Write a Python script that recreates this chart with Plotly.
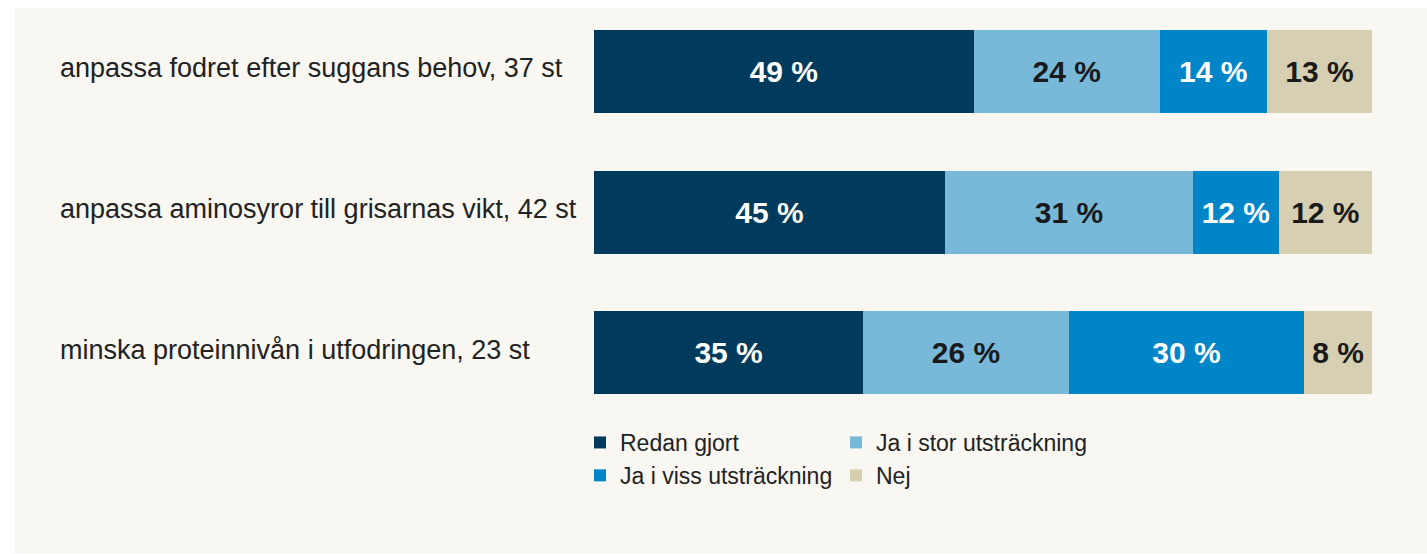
import plotly.graph_objects as go

categories = [
    "anpassa fodret efter suggans behov, 37 st",
    "anpassa aminosyror till grisarnas vikt, 42 st",
    "minska proteinnivån i utfodringen, 23 st",
]
series_names = ["Redan gjort", "Ja i stor utsträckning", "Ja i viss utsträckning", "Nej"]
# segment lengths (%)
redan = [48.8, 45.1, 34.6]
stor = [23.9, 31.9, 26.4]
viss = [13.8, 11.0, 30.3]
nej = [13.5, 12.0, 8.7]
# printed labels (%)
redan_lbl = [49, 45, 35]
stor_lbl = [24, 31, 26]
viss_lbl = [14, 12, 30]
nej_lbl = [13, 12, 8]

colors = ["#003a5c", "#78b8d8", "#0086c8", "#d6cfb1"]
text_colors = ["#ffffff", "#1a1a1a", "#ffffff", "#1a1a1a"]

W, H = 1427, 554
L, R, T, B = 594, 55, 1, 131
PW, PH = W - L - R, H - T - B

def px_x(px):
    return (px - L) / PW

def px_y(py):
    return (H - B - py) / PH

fig = go.Figure()
for name, vals, lbls, col, tcol in zip(
    series_names, [redan, stor, viss, nej], [redan_lbl, stor_lbl, viss_lbl, nej_lbl], colors, text_colors
):
    fig.add_trace(go.Bar(
        y=categories, x=vals, name=name, orientation="h",
        marker=dict(color=col, line=dict(width=0)),
        text=[f"{v} %" for v in lbls], textposition="inside", insidetextanchor="middle",
        constraintext="none",
        textfont=dict(family="Liberation Sans, Arial, sans-serif", size=30, color=tcol, weight="bold"),
        hoverinfo="skip",
    ))

for c in categories:
    fig.add_annotation(
        x=px_x(58), xref="paper", y=c, yref="y", xanchor="left", yanchor="middle",
        text=c, showarrow=False, yshift=3,
        font=dict(family="Liberation Sans, Arial, sans-serif", size=27, color="#222222"),
    )

fig.add_shape(type="rect", xref="paper", yref="paper", x0=px_x(15), x1=px_x(1427), y0=px_y(553), y1=px_y(8),
              fillcolor="#f8f7f2", line=dict(width=0), layer="below")

fig.update_layout(
    width=W, height=H, margin=dict(l=L, r=R, t=T, b=B),
    paper_bgcolor="#ffffff", plot_bgcolor="rgba(0,0,0,0)",
    barmode="stack", bargap=0.41, showlegend=True,
    xaxis=dict(range=[0, 100], visible=False, fixedrange=True),
    yaxis=dict(autorange="reversed", showticklabels=False, showgrid=False, zeroline=False, fixedrange=True),
    legend=dict(
        orientation="h", x=px_x(580), xanchor="left", y=px_y(421), yanchor="top",
        entrywidth=211, entrywidthmode="pixels", traceorder="normal",
        font=dict(family="Liberation Sans, Arial, sans-serif", size=23, color="#222222"),
        bgcolor="rgba(0,0,0,0)",
    ),
)

fig.write_html("out.html", config={"displayModeBar": False},
               post_script="document.body.style.margin='0';")
